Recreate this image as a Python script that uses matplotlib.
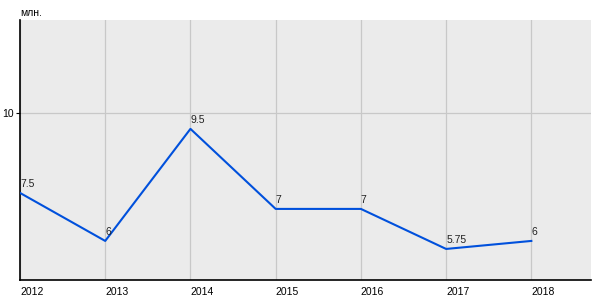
import matplotlib
matplotlib.use('Agg')
import matplotlib.pyplot as plt

plt.rcParams['font.family'] = ['Liberation Sans', 'DejaVu Sans']

years = [2012, 2013, 2014, 2015, 2016, 2017, 2018]
values = [7.5, 6, 9.5, 7, 7, 5.75, 6]
labels = ['7.5', '6', '9.5', '7', '7', '5.75', '6']

fig = plt.figure(figsize=(6, 3), dpi=100)
ax = fig.add_axes([20 / 600, 20 / 300, 571 / 600, 260 / 300])
ax.set_facecolor('#ebebeb')

ax.plot(years, values, color='#0050dc', linewidth=1.5, zorder=3)
for x, y, t in zip(years, values, labels):
    ax.annotate(t, (x, y), xytext=(0, 3), textcoords='offset points',
                ha='left', va='bottom', fontsize=7.5, color='#222222', zorder=4)

ax.set_xlim(2012, 2018.7)
ax.set_ylim(4.78, 12.9)
ax.set_xticks(years)
ax.set_xticklabels([str(y) for y in years], ha='left')
ax.set_yticks([10])
ax.grid(True, color='#c8c8c8', linewidth=0.9, zorder=0)
ax.set_axisbelow(True)

for s in ['top', 'right']:
    ax.spines[s].set_visible(False)
for s in ['left', 'bottom']:
    ax.spines[s].set_color('black')
    ax.spines[s].set_linewidth(1.2)

ax.tick_params(axis='x', length=0, labelsize=7.5, pad=5)
ax.tick_params(axis='y', length=3, labelsize=7.5, pad=1.5)
fig.text(20 / 600, 1 - 13 / 300, 'млн.', fontsize=7.5, ha='left', va='center')

plt.savefig('out.png', dpi=100)
